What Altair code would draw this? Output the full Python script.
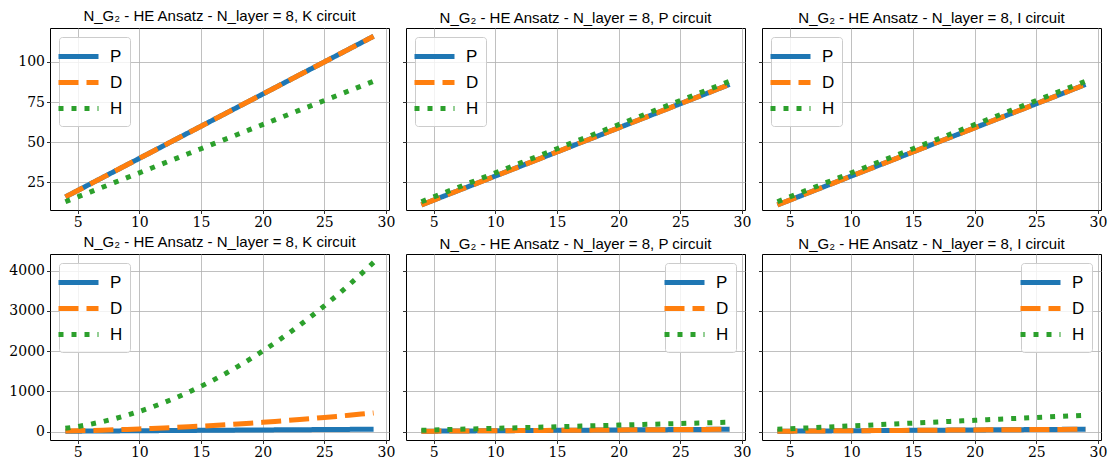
import altair as alt
import pandas as pd

# ---- data ----
n_qubits = [4, 5, 6, 7, 8, 9, 10, 11, 12, 13, 14, 15, 16, 17, 18, 19, 20,
            21, 22, 23, 24, 25, 26, 27, 28, 29]

# top row
top_K_P = [16, 20, 24, 28, 32, 36, 40, 44, 48, 52, 56, 60, 64, 68, 72, 76, 80,
           84, 88, 92, 96, 100, 104, 108, 112, 116]
top_K_D = [16, 20, 24, 28, 32, 36, 40, 44, 48, 52, 56, 60, 64, 68, 72, 76, 80,
           84, 88, 92, 96, 100, 104, 108, 112, 116]
top_K_H = [13, 16, 19, 22, 25, 28, 31, 34, 37, 40, 43, 46, 49, 52, 55, 58, 61,
           64, 67, 70, 73, 76, 79, 82, 85, 88]

top_P_P = [11, 14, 17, 20, 23, 26, 29, 32, 35, 38, 41, 44, 47, 50, 53, 56, 59,
           62, 65, 68, 71, 74, 77, 80, 83, 86]
top_P_D = [11, 14, 17, 20, 23, 26, 29, 32, 35, 38, 41, 44, 47, 50, 53, 56, 59,
           62, 65, 68, 71, 74, 77, 80, 83, 86]
top_P_H = [13, 16, 19, 22, 25, 28, 31, 34, 37, 40, 43, 46, 49, 52, 55, 58, 61,
           64, 67, 70, 73, 76, 79, 82, 85, 88]

top_I_P = [11, 14, 17, 20, 23, 26, 29, 32, 35, 38, 41, 44, 47, 50, 53, 56, 59,
           62, 65, 68, 71, 74, 77, 80, 83, 86]
top_I_D = [11, 14, 17, 20, 23, 26, 29, 32, 35, 38, 41, 44, 47, 50, 53, 56, 59,
           62, 65, 68, 71, 74, 77, 80, 83, 86]
top_I_H = [13, 16, 19, 22, 25, 28, 31, 34, 37, 40, 43, 46, 49, 52, 55, 58, 61,
           64, 67, 70, 73, 76, 79, 82, 85, 88]

# bottom row
bot_K_P = [8, 10, 12, 14, 16, 18, 20, 22, 24, 26, 28, 30, 32, 34, 36, 38, 40,
           42, 44, 46, 48, 50, 52, 54, 56, 58]
bot_K_D = [14, 20, 27, 35, 44, 54, 65, 77, 90, 104, 119, 135, 152, 170, 189,
           209, 230, 252, 275, 299, 324, 350, 377, 405, 434, 464]
bot_K_H = [80, 125, 180, 245, 320, 405, 500, 605, 720, 845, 980, 1125, 1280,
           1445, 1620, 1805, 2000, 2205, 2420, 2645, 2880, 3125, 3380, 3645,
           3920, 4205]

bot_P_P = [8, 10, 12, 14, 16, 18, 20, 22, 24, 26, 28, 30, 32, 34, 36, 38, 40,
           42, 44, 46, 48, 50, 52, 54, 56, 58]
bot_P_D = [8, 10, 12, 14, 16, 18, 20, 22, 24, 26, 28, 30, 32, 34, 36, 38, 40,
           42, 44, 46, 48, 50, 52, 54, 56, 58]
bot_P_H = [32, 40, 48, 56, 64, 72, 80, 88, 96, 104, 112, 120, 128, 136, 144,
           152, 160, 168, 176, 184, 192, 200, 208, 216, 224, 232]

bot_I_P = [8, 10, 12, 14, 16, 18, 20, 22, 24, 26, 28, 30, 32, 34, 36, 38, 40,
           42, 44, 46, 48, 50, 52, 54, 56, 58]
bot_I_D = [8, 10, 12, 14, 16, 18, 20, 22, 24, 26, 28, 30, 32, 34, 36, 38, 40,
           42, 44, 46, 48, 50, 52, 54, 56, 58]
bot_I_H = [56, 70, 84, 98, 112, 126, 140, 154, 168, 182, 196, 210, 224, 238,
           252, 266, 280, 294, 308, 322, 336, 350, 364, 378, 392, 406]

series = ["P", "D", "H"]
colors = ["#1f77b4", "#ff7f0e", "#2ca02c"]
dashes = [[1, 0], [20, 8], [5, 8]]
x_ticks = [5, 10, 15, 20, 25, 30]
top_ticks = [25, 50, 75, 100]
bot_ticks = [0, 1000, 2000, 3000, 4000]
top_domain = [7.85, 121.15]
bot_domain = [-210, 4415]

W = 339
SERIF = "DejaVu Serif"


def panel(vals, circuit, ydomain, yticks, show_labels, legend_orient, height):
    rows = []
    for s, v in zip(series, vals):
        for x, y in zip(n_qubits, v):
            rows.append({"n": x, "value": y, "series": s})
    df = pd.DataFrame(rows)
    title = f"N_G\u2082 - HE Ansatz - N_layer = 8, {circuit} circuit"
    leg = alt.Legend(title=None, orient=legend_orient, offset=9)
    return alt.Chart(df, title=title).mark_line(
        strokeWidth=5, strokeCap="butt"
    ).encode(
        x=alt.X("n:Q", scale=alt.Scale(domain=[2.75, 30.25], nice=False, zero=False),
                axis=alt.Axis(values=x_ticks, title=None, format="d",
                              labelFont=SERIF, labelFontSize=14)),
        y=alt.Y("value:Q", scale=alt.Scale(domain=ydomain, nice=False, zero=False),
                axis=alt.Axis(values=yticks, title=None, labels=show_labels, format="d",
                              labelFont=SERIF, labelFontSize=14)),
        color=alt.Color("series:N", scale=alt.Scale(domain=series, range=colors), legend=leg),
        strokeDash=alt.StrokeDash("series:N", scale=alt.Scale(domain=series, range=dashes), legend=leg),
    ).properties(width=W, height=height)


panels = [
    panel([top_K_P, top_K_D, top_K_H], "K", top_domain, top_ticks, True, "top-left", 182),
    panel([top_P_P, top_P_D, top_P_H], "P", top_domain, top_ticks, False, "top-left", 182),
    panel([top_I_P, top_I_D, top_I_H], "I", top_domain, top_ticks, False, "top-left", 182),
    panel([bot_K_P, bot_K_D, bot_K_H], "K", bot_domain, bot_ticks, True, "top-left", 186),
    panel([bot_P_P, bot_P_D, bot_P_H], "P", bot_domain, bot_ticks, False, "top-right", 186),
    panel([bot_I_P, bot_I_D, bot_I_H], "I", bot_domain, bot_ticks, False, "top-right", 186),
]

chart = alt.concat(
    *panels, columns=3, spacing={"row": 44, "column": 17}, bounds="flush"
).resolve_scale(
    color="independent", strokeDash="independent"
).properties(
    padding={"left": 0, "top": 0, "right": 0, "bottom": 0}
).configure_view(
    stroke="black", strokeWidth=1
).configure_axis(
    domain=False, grid=True, gridColor="#b0b0b0", gridWidth=0.8, gridOpacity=1,
    tickColor="black", tickSize=3.5, tickWidth=0.8,
    labelFont=SERIF, labelFontSize=14, labelColor="black",
    labelPadding=2
).configure_title(
    font="Liberation Sans", fontSize=15, fontWeight="normal", color="black",
    anchor="middle", offset=2
).configure_legend(
    fillColor="rgba(255,255,255,0.8)", strokeColor="#cccccc", cornerRadius=3, padding=7,
    symbolType="M-2,0H2", symbolSize=400, symbolStrokeWidth=5, symbolOffset=0,
    labelFont="Liberation Sans", labelFontSize=17, labelColor="black",
    rowPadding=3, labelOffset=19
)

chart.save("out.html", embed_options={"renderer": "svg", "actions": False})
